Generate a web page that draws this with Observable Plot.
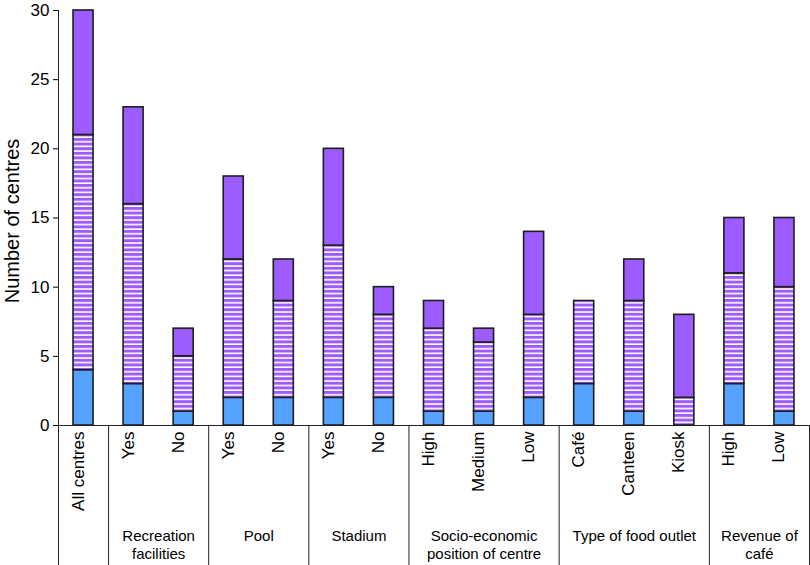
<!DOCTYPE html>
<html><head><meta charset="utf-8">
<script src="https://cdn.jsdelivr.net/npm/d3@7"></script>
<script src="https://cdn.jsdelivr.net/npm/@observablehq/plot@0.6"></script>
<style>body{margin:0;background:#fff} svg{display:block}</style>
</head><body><div id="chart"></div>
<script>
const categories = ["All centres","Yes","No","Yes","No","Yes","No","High","Medium","Low","Café","Canteen","Kiosk","High","Low"];
const solidBlue   = [4, 3, 1, 2, 2, 2, 2, 1, 1, 2, 3, 1, 0, 3, 1];
const striped     = [17,13, 4,10, 7,11, 6, 6, 5, 6, 6, 8, 2, 8, 9];
const solidPurple = [9, 7, 2, 6, 3, 7, 2, 2, 1, 6, 0, 3, 6, 4, 5];
const groupLabels = ["", "Recreation\nfacilities", "Pool", "Stadium", "Socio-economic\nposition of centre", "Type of food outlet", "Revenue of\ncafé"];
const groupSizes = [1, 2, 2, 2, 3, 3, 2];
const yTicks = [0, 5, 10, 15, 20, 25, 30];
const yLabel = "Number of centres";

const W = 810, H = 565, mT = 10, mB = 140, mL = 58, mR = 1;
const frameH = H - mT - mB;
const segFill = {blue: "#56a2ff", striped: "url(#stripes)", purple: "#9d5cff"};

const rows = [];
categories.forEach((c, i) => {
  let base = 0;
  [["blue", solidBlue[i]], ["striped", striped[i]], ["purple", solidPurple[i]]].forEach(([s, v]) => {
    rows.push({i, seg: s, y1: base, y2: base + v});
    base += v;
  });
});
const tickRows = categories.map((c, i) => ({i, label: c}));
let start = 0;
const groups = groupSizes.map((n, k) => {
  const g = {mid: start + (n - 1) / 2, label: groupLabels[k], lo: start - 0.5, hi: start + n - 0.5};
  start += n;
  return g;
});
const bounds = [...new Set(groups.flatMap(g => [g.lo, g.hi]))];

const chart = Plot.plot({
  width: W, height: H, marginTop: mT, marginBottom: mB, marginLeft: mL, marginRight: mR,
  x: {domain: [-0.5, categories.length - 0.5], axis: null},
  y: {domain: [0, 30], axis: null},
  color: {type: "identity"},
  style: {fontFamily: "Liberation Sans, Arial, sans-serif", color: "#000", background: "#fff"},
  marks: [
    Plot.rectY(rows, {x1: d => d.i - 0.2, x2: d => d.i + 0.2, y1: "y1", y2: "y2", fill: d => segFill[d.seg], stroke: "#1e1e1e", strokeWidth: 1.6}),
    Plot.ruleY([0], {stroke: "#222"}),
    Plot.ruleX([bounds[0]], {stroke: "#222", insetBottom: -mB}),
    Plot.ruleX(bounds.slice(1), {stroke: "#222", insetTop: frameH, insetBottom: -mB}),
    Plot.axisY({ticks: yTicks, tickSize: 5, tickPadding: 4, fontSize: 17, label: null}),
    Plot.text(tickRows, {x: "i", text: "label", frameAnchor: "bottom", dy: 6, rotate: -90, textAnchor: "end", fontSize: 17}),
    Plot.text(groups, {x: "mid", text: "label", frameAnchor: "bottom", dy: 103, lineAnchor: "top", lineHeight: 1.2, fontSize: 15}),
    Plot.text([yLabel], {frameAnchor: "left", dx: -46, dy: 3, rotate: -90, textAnchor: "middle", fontSize: 20})
  ]
});

const defs = d3.select(chart).insert("defs", ":first-child");
const pat = defs.append("pattern").attr("id", "stripes").attr("patternUnits", "userSpaceOnUse").attr("width", 4).attr("height", 4.6);
pat.append("rect").attr("width", 4).attr("height", 4.6).attr("fill", "#9d5cff");
pat.append("rect").attr("y", 3).attr("width", 4).attr("height", 1.6).attr("fill", "#ffffff");

document.getElementById("chart").appendChild(chart);
</script>
</body></html>
